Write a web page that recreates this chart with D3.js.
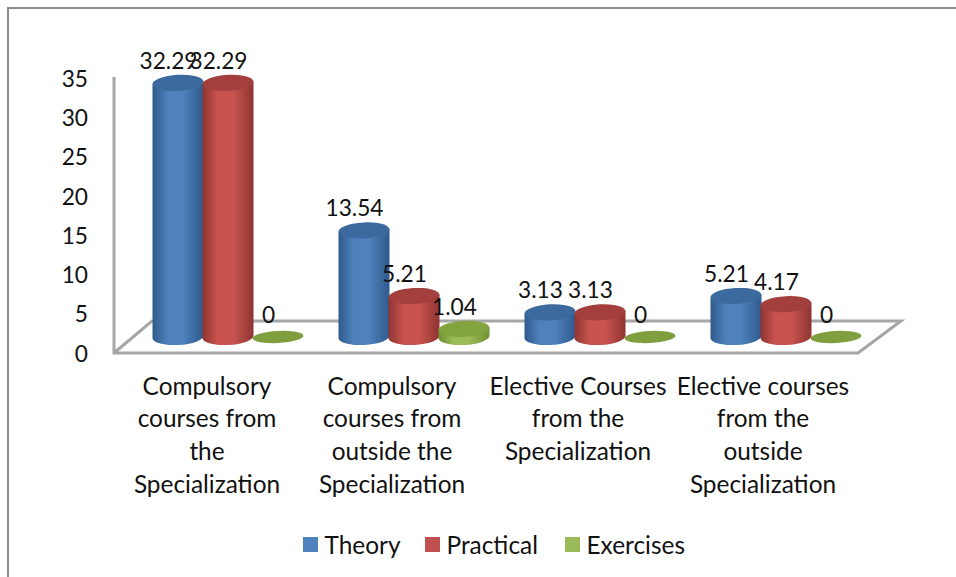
<!DOCTYPE html>
<html><head><meta charset="utf-8">
<script src="https://cdn.jsdelivr.net/npm/d3@7"></script>
<style>html,body{margin:0;padding:0;background:#fff;overflow:hidden}svg{display:block}text{font-family:Lato,"Open Sans",sans-serif;fill:#111}</style>
</head><body><div id="c"></div>
<script>
const categories=[["Compulsory","courses from","the","Specialization"],["Compulsory","courses from","outside the","Specialization"],["Elective Courses","from the","Specialization"],["Elective courses","from the","outside","Specialization"]];
const seriesNames=["Theory","Practical","Exercises"];
const theory=[32.29,13.54,3.13,5.21];
const practical=[32.29,5.21,3.13,4.17];
const exercises=[0,1.04,0,0];
const yTicks=[0,5,10,15,20,25,30,35];
const seriesValues=[theory,practical,exercises];
const colors=[{b:"#4F81BD",e:"#2f5a8c",t:"#3c6a9f"},{b:"#C9544F",e:"#8e3432",t:"#a33f3d"},{b:"#9BBB59",e:"#6f8f32",t:"#83a53f"}];
const W=956,H=577,fs=24.4,nfs=22.7;
const svg=d3.select("#c").append("svg").attr("width",W).attr("height",H);
const defs=svg.append("defs");
colors.forEach((c,i)=>{const g=defs.append("linearGradient").attr("id","g"+i);
 [[0,c.e],[.3,c.b],[.6,c.b],[1,c.e]].forEach(s=>g.append("stop").attr("offset",s[0]).attr("stop-color",s[1]));});
svg.append("path").attr("d","M8,577V8H956").attr("fill","none").attr("stroke","#8c8c8c").attr("stroke-width",2);
const yLabel=d3.scaleLinear().domain([0,35]).range([354,79]);
const yBar=d3.scaleLinear().domain([0,35]).range([337,61.5]);
const xGroup=d3.scaleBand().domain(d3.range(4)).range([115,859]);
const xSeries=d3.scaleBand().domain(d3.range(3)).range([38,188]);
const RX=25.5,RY=8,TILT=3,dy=RX*Math.sin(TILT*Math.PI/180);
const gray="#a6a6a6";
svg.append("path").attr("d","M114,77V353H858L901,321H152L114,353").attr("fill","none").attr("stroke",gray).attr("stroke-width",3);
const axis=d3.axisLeft(yLabel).tickValues(yTicks).tickSize(0).tickPadding(0);
const ax=svg.append("g").attr("transform","translate(88,0)").call(axis);
ax.select(".domain").remove();
ax.selectAll("text").attr("font-size",nfs).style("font-family","Lato").attr("fill","#111");
d3.range(4).forEach(gi=>{seriesNames.forEach((s,si)=>{
 const v=seriesValues[si][gi],cx=xGroup(gi)+xSeries(si)+xSeries.bandwidth()/2,c=colors[si];
 const top=yBar(v),base=yBar(0),rot=`rotate(${-TILT} ${cx} `;
 if(v>0){
  const d=`M${cx-RX},${top+dy}V${base+dy}A${RX},${RY} ${-TILT} 0 0 ${cx+RX},${base-dy}V${top-dy}Z`;
  svg.append("path").attr("d",d).attr("fill",`url(#g${si})`);
  svg.append("ellipse").attr("cx",cx).attr("cy",top).attr("rx",RX).attr("ry",RY).attr("fill",c.t).attr("transform",rot+top+")");
 } else {
  svg.append("ellipse").attr("cx",cx).attr("cy",top).attr("rx",RX).attr("ry",6).attr("fill","#7f9f3f").attr("transform",rot+top+")");
 }
 svg.append("text").attr("x",cx-9.5).attr("y",top-22.5).attr("text-anchor","middle").attr("dominant-baseline","central").attr("font-size",nfs).text(v);
});});
const catX=[207,392,578,763];
categories.forEach((lines,i)=>{lines.forEach((l,j)=>{
 svg.append("text").attr("x",catX[i]).attr("y",385+32.7*j).attr("text-anchor","middle").attr("dominant-baseline","central").attr("font-size",fs).text(l);
});});
const legX=[303,425,565];
seriesNames.forEach((s,i)=>{
 svg.append("rect").attr("x",legX[i]).attr("y",537).attr("width",15).attr("height",15).attr("fill",i==1?"#C0504D":colors[i].b);
 svg.append("text").attr("x",legX[i]+21.5).attr("y",544).attr("dominant-baseline","central").attr("font-size",fs).text(s);
});
</script></body></html>
